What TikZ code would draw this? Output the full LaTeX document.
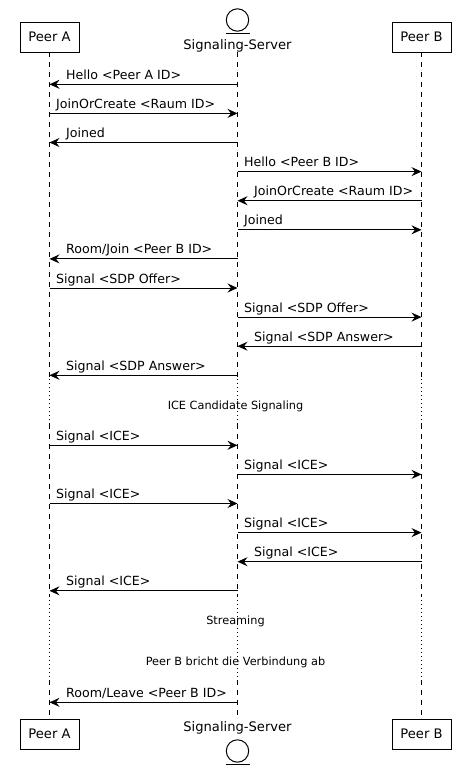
\documentclass[tikz,border=0pt]{standalone}
\usepackage{fontspec}
\setmainfont{DejaVu Sans}
\usetikzlibrary{arrows.meta}
\tikzset{
  lifeline/.style={line width=1pt, dash pattern=on 5pt off 5pt},
  delayline/.style={line width=1pt, dash pattern=on 1pt off 3pt},
  msg/.style={line width=1pt, -{Stealth[length=10pt,width=9pt,inset=3.5pt]}},
  msgtext/.style={anchor=base west, inner sep=0pt, font=\fontsize{12.6}{14}\selectfont},
  partbox/.style={draw, line width=1pt, minimum width=59pt, minimum height=30pt, inner sep=0pt, font=\fontsize{13.1}{15}\selectfont},
  parttext/.style={anchor=base, inner sep=0pt, font=\fontsize{13.1}{15}\selectfont},
  entcircle/.style={draw, circle, line width=1pt, minimum size=22.4pt, inner sep=0pt},
  divtext/.style={anchor=base, inner sep=0pt, font=\fontsize{11.3}{13}\selectfont},
}
\newcommand\msgR[5]{%
  \coordinate (m#1a) at (#3 |- 0,#2);
  \coordinate (m#1b) at (#4 |- 0,#2);
  \draw[msg] (m#1a) -- (m#1b);
  \node[msgtext] (t#1) at ([xshift=6.5pt,yshift=5pt]m#1a) {#5};}
\newcommand\msgL[5]{%
  \coordinate (m#1a) at (#3 |- 0,#2);
  \coordinate (m#1b) at (#4 |- 0,#2);
  \draw[msg] (m#1a) -- (m#1b);
  \node[msgtext] (t#1) at ([xshift=16.5pt,yshift=5pt]m#1b) {#5};}
\begin{document}
\begin{tikzpicture}[x=1pt,y=-1pt]
\useasboundingbox (0,0) rectangle (456,771);
% lifeline x positions
\coordinate (LA) at (49.5,0);
\coordinate (LS) at (237.5,0);
\coordinate (LB) at (421.5,0);
% participants top
\node[partbox] (At) at (49.5,37) {Peer A};
\node[partbox] (Bt) at (421.5,37) {Peer B};
\node[entcircle] (Sct) at (237.5,20) {};
\coordinate (Sut1) at (225.5,33.3);
\coordinate (Sut2) at (249.5,33.3);
\draw[line width=1pt] (Sut1) -- (Sut2);
\node[parttext] (St) at (237.5,49) {Signaling-Server};
% participants bottom
\node[partbox] (Ab) at (49.5,734) {Peer A};
\node[partbox] (Bb) at (421.5,734) {Peer B};
\node[parttext] (Sb) at (237.5,731.3) {Signaling-Server};
\node[entcircle] (Scb) at (237.5,751) {};
\coordinate (Sub1) at (225.5,764.3);
\coordinate (Sub2) at (249.5,764.3);
\draw[line width=1pt] (Sub1) -- (Sub2);
% lifelines
\foreach \L in {LA,LS,LB}{
  \draw[lifeline] (\L |- 0,52) -- (\L |- 0,379);
  \draw[delayline] (\L |- 0,379) -- (\L |- 0,424);
  \draw[lifeline] (\L |- 0,424) -- (\L |- 0,596);
  \draw[delayline] (\L |- 0,596) -- (\L |- 0,680);
  \draw[lifeline] (\L |- 0,680) -- (\L |- 0,719);
}
% messages
\msgL{1}{84.3}{LS}{LA}{Hello <Peer A ID>}
\msgR{2}{113.4}{LA}{LS}{JoinOrCreate <Raum ID>}
\msgL{3}{142.5}{LS}{LA}{Joined}
\msgR{4}{171.6}{LS}{LB}{Hello <Peer B ID>}
\msgL{5}{200.7}{LB}{LS}{JoinOrCreate <Raum ID>}
\msgR{6}{229.8}{LS}{LB}{Joined}
\msgL{7}{258.9}{LS}{LA}{Room/Join <Peer B ID>}
\msgR{8}{288.0}{LA}{LS}{Signal <SDP Offer>}
\msgR{9}{317.1}{LS}{LB}{Signal <SDP Offer>}
\msgL{10}{346.2}{LB}{LS}{Signal <SDP Answer>}
\msgL{11}{375.3}{LS}{LA}{Signal <SDP Answer>}
\msgR{12}{445.3}{LA}{LS}{Signal <ICE>}
\msgR{13}{474.4}{LS}{LB}{Signal <ICE>}
\msgR{14}{503.5}{LA}{LS}{Signal <ICE>}
\msgR{15}{532.6}{LS}{LB}{Signal <ICE>}
\msgL{16}{561.7}{LB}{LS}{Signal <ICE>}
\msgL{17}{590.8}{LS}{LA}{Signal <ICE>}
\msgL{18}{702.3}{LS}{LA}{Room/Leave <Peer B ID>}
% delay texts
\node[divtext] (d1) at (235.5,409) {ICE Candidate Signaling};
\node[divtext] (d2) at (235.5,624.3) {Streaming};
\node[divtext] (d3) at (235.5,665) {Peer B bricht die Verbindung ab};
\end{tikzpicture}
\end{document}
